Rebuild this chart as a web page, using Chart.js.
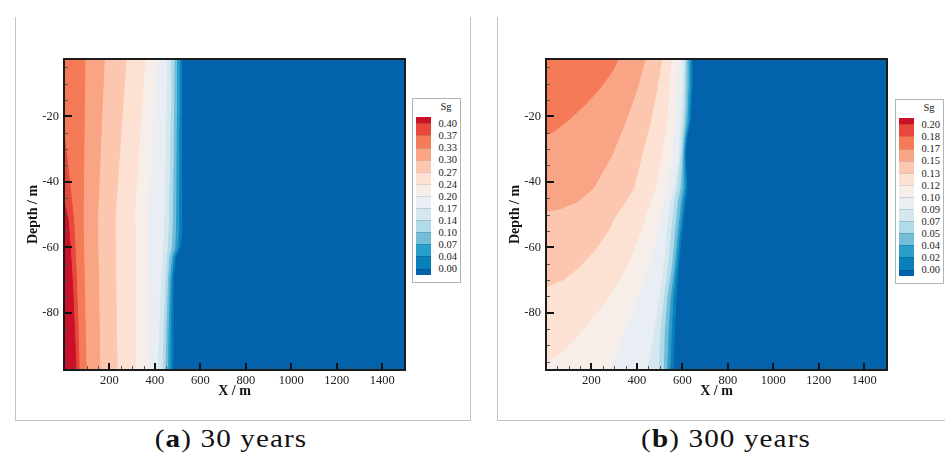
<!DOCTYPE html>
<html>
<head>
<meta charset="utf-8">
<script src="https://cdn.jsdelivr.net/npm/chart.js@4/dist/chart.umd.min.js"></script>
<style>
  html, body { margin: 0; padding: 0; background: #fff; }
  body { position: relative; width: 945px; height: 461px; overflow: hidden; font-family: "Liberation Serif", "Times New Roman", serif; }
  .frame { position: absolute; box-sizing: border-box; border: 1px solid #c2c2c2; border-top: none; }
  canvas { position: absolute; }
  .cbar { position: absolute; box-sizing: border-box; border: 1px solid #b4b4b4; background: #fff; width: 49px; height: 185px; font-family: "Liberation Serif", serif; }
  .cbar div { position: absolute; }
  .cbar .sw { left: 3px; width: 15px; }
  .cbar .lab { left: 25.5px; font-size: 10.5px; line-height: 12px; color: #222; white-space: nowrap; }
  .cbar .ttl { left: 22px; width: 22px; top: 2px; text-align: center; font-size: 10.5px; line-height: 12px; color: #222; }
  .cap { position: absolute; top: 423px; width: 240px; text-align: center; font-size: 26px; line-height: 32px; color: #111; letter-spacing: 1px; transform: scaleX(1.12); font-family: "Liberation Serif", serif; }
</style>
</head>
<body>
<div class="frame" style="left:15px; top:17px; width:456px; height:404px;"></div>
<div class="frame" style="left:497px; top:17px; width:470px; height:404px;"></div>
<canvas id="chartA" width="454" height="403" style="left:16px; top:17px;"></canvas>
<canvas id="chartB" width="447" height="403" style="left:498px; top:17px;"></canvas>
<div class="cbar" id="cbarA" style="left:412px; top:98px;"></div>
<div class="cbar" id="cbarB" style="left:895px; top:99px;"></div>
<div class="cap" style="left:111px;">(<b>a</b>) 30 years</div>
<div class="cap" style="left:606px;">(<b>b</b>) 300 years</div>

<script>
// ---------------- DATA ----------------
// Axis tick labels
const xTickValues = [200, 400, 600, 800, 1000, 1200, 1400];
const yTickValues = [-80, -60, -40, -20];

// Colour bands, low -> high (index 0 = below the lowest level)
const levelColors = ['#0262AC', '#0A80BA', '#2B9FCB', '#73BDD8', '#B1DAEA', '#D5E8EF', '#E8EEF4',
                     '#F7EEE9', '#FDE1D3', '#FCC7AE', '#F9A484', '#F57B58', '#E8483C', '#CA1129'];

// Colour-bar labels (top -> bottom)
const cbarLabelsA = ['0.40', '0.37', '0.33', '0.30', '0.27', '0.24', '0.20', '0.17', '0.14', '0.10', '0.07', '0.04', '0.00'];
const cbarLabelsB = ['0.20', '0.18', '0.17', '0.15', '0.13', '0.12', '0.10', '0.09', '0.07', '0.05', '0.04', '0.02', '0.00'];

// ---- Panel (a) 30 years: contour lines, X (m) at depth (m) ----
const aDepthBlue = [-2.5, -20, -40, -55, -60, -63, -70, -85, -97.5];
const aX000 = [517, 518, 518, 516, 512, 490, 480, 479, 478];
const aX004 = [507, 506, 505, 503, 500, 482, 472, 468, 466];
const aX007 = [495, 494, 492, 490, 487, 474, 464, 458, 455];
const aX010 = [484, 482, 479, 475, 472, 462, 455, 448, 444];
const aX014 = [469, 467, 463, 458, 455, 450, 444, 436, 431];
const aX017 = [451, 448, 443, 438, 434, 431, 426, 416, 409];
const aDepthWarm = [-2.5, -51.6, -97.5];
const aX020 = [407, 368, 374];
const aX024 = [356, 308, 312];
const aX027 = [273, 224, 233];
const aX030 = [177, 147, 158];
const aX033 = [92, 84, 97];
const aDepth037 = [-25.5, -30, -37, -45, -51.6, -65, -80, -97.5];
const aX037 = [0, 8, 20, 32, 42, 52, 60, 67];
const aDepth040 = [-46, -51.6, -60, -75, -97.5];
const aX040 = [0, 18, 28, 40, 53];

// ---- Panel (b) 300 years ----
const bDepthBlue = [-2.5, -12, -21.6, -26.7, -31.8, -41.9, -46, -55.6, -65.8, -76, -86.1, -97.5];
const bX000 = [641, 641, 634, 619, 612, 620, 612, 597, 582, 572, 564, 558];
const bX002 = [633, 633, 627, 614, 608, 612, 603, 588, 573, 558, 551, 545];
const bX004 = [624, 624, 619, 608, 603, 602, 592, 578, 564, 546, 537, 531];
const bX005 = [616, 615, 610, 602, 598, 590, 578, 565, 552, 531, 520, 516];
const bX007 = [607, 606, 601, 594, 590, 575, 562, 548, 535, 516, 500, 494];
const bX009 = [599, 597, 590, 585, 582, 562, 545, 528, 516, 495, 473, 443];
const bDepth010 = [-2.5, -21.6, -31.8, -41.9, -46, -55.6, -65.8, -76, -86.1, -97.5];
const bX010 = [580, 568, 553, 532, 515, 490, 451, 400, 341, 282];
const bDepth012 = [-2.5, -21.6, -31.8, -41.9, -46, -55.6, -65.8, -76, -86.1, -93.3, -95.3];
const bX012 = [549, 531, 509, 480, 458, 414, 355, 268, 150, 48, 0];
const bDepth013 = [-2.5, -12, -22, -32, -42, -46, -50.6, -55.6, -60.7, -65.8, -69.9, -72.1];
const bX013 = [509, 487, 458, 421, 385, 350, 304, 268, 216, 150, 77, 0];
const bDepth015 = [-2.5, -12, -22, -31.8, -41.9, -46, -48.3, -49];
const bX015 = [436, 399, 348, 290, 209, 140, 60, 0];
const bDepth017 = [-2.5, -6.4, -11.4, -16.5, -21.6, -24.7, -25.5];
const bX017 = [319, 290, 238, 172, 92, 33, 0];

// ---------------- BUILD ----------------
const X_MIN = 0, X_MAX = 1500, Y_MIN = -97.5, Y_MAX = -2.5;
const SERIF = 'Liberation Serif';
Chart.defaults.font.family = SERIF;

// region "value >= level": contour line closed back along the left edge
function region(xs, ds) {
  const pts = xs.map((x, i) => ({ x: x, y: ds[i] }));
  pts.push({ x: X_MIN, y: ds[ds.length - 1] });
  pts.push({ x: X_MIN, y: ds[0] });
  return pts;
}

const panelA = [
  [aX000, aDepthBlue], [aX004, aDepthBlue], [aX007, aDepthBlue], [aX010, aDepthBlue],
  [aX014, aDepthBlue], [aX017, aDepthBlue], [aX020, aDepthWarm], [aX024, aDepthWarm],
  [aX027, aDepthWarm], [aX030, aDepthWarm], [aX033, aDepthWarm], [aX037, aDepth037], [aX040, aDepth040]
];
const panelB = [
  [bX000, bDepthBlue], [bX002, bDepthBlue], [bX004, bDepthBlue], [bX005, bDepthBlue],
  [bX007, bDepthBlue], [bX009, bDepthBlue], [bX010, bDepth010], [bX012, bDepth012],
  [bX013, bDepth013], [bX015, bDepth015], [bX017, bDepth017]
];

function datasetsFor(panel) {
  return panel.map((lv, i) => ({
    data: region(lv[0], lv[1]),
    fill: 'shape',
    backgroundColor: levelColors[i + 1],
    borderColor: levelColors[i + 1],
    borderWidth: 1,
    pointRadius: 0,
    tension: 0,
    order: 100 - i
  }));
}

const framePlugin = {
  id: 'frameTicks',
  beforeDatasetsDraw(chart) {
    const { ctx, chartArea: a } = chart;
    ctx.save();
    ctx.fillStyle = levelColors[0];
    ctx.fillRect(a.left, a.top, a.right - a.left, a.bottom - a.top);
    ctx.restore();
  },
  afterDatasetsDraw(chart) {
    const { ctx, chartArea: a, scales } = chart;
    const x = scales.x, y = scales.y;
    ctx.save();
    for (let v = 50; v < X_MAX; v += 50) {
      const major = v % 200 === 0;
      const px = Math.round(x.getPixelForValue(v)) + (major ? 0 : 0.5);
      ctx.strokeStyle = major ? '#111' : '#555';
      ctx.lineWidth = major ? 2 : 1;
      ctx.beginPath();
      ctx.moveTo(px, a.bottom);
      ctx.lineTo(px, a.bottom - (major ? 7 : 4));
      ctx.stroke();
    }
    for (let v = -5; v > Y_MIN; v -= 5) {
      const major = v % 20 === 0;
      const py = Math.round(y.getPixelForValue(v)) + (major ? 0 : 0.5);
      ctx.strokeStyle = major ? '#111' : '#555';
      ctx.lineWidth = major ? 2 : 1;
      ctx.beginPath();
      ctx.moveTo(a.left, py);
      ctx.lineTo(a.left + (major ? 8 : 4), py);
      ctx.stroke();
    }
    ctx.strokeStyle = '#1b1b1b';
    ctx.lineWidth = 2;
    ctx.strokeRect(a.left, a.top, a.right - a.left, a.bottom - a.top);
    ctx.restore();
  }
};

function makeChart(id, panel, rightPad) {
  return new Chart(document.getElementById(id), {
    type: 'line',
    data: { datasets: datasetsFor(panel) },
    options: {
      responsive: false,
      animation: false,
      devicePixelRatio: 1,
      layout: { padding: { left: 0, top: 42, right: rightPad, bottom: 0 } },
      plugins: { legend: { display: false }, tooltip: { enabled: false } },
      scales: {
        x: {
          type: 'linear', min: X_MIN, max: X_MAX,
          afterBuildTicks: s => { s.ticks = xTickValues.map(v => ({ value: v })); },
          afterFit: s => { s.height = 50; },
          grid: { display: false, drawTicks: false },
          border: { display: false },
          ticks: { autoSkip: false, maxRotation: 0, padding: 3, color: '#222',
                   callback: v => String(v),
                   font: { family: SERIF, size: 12.5 } },
          title: { display: true, text: 'X / m', color: '#111', padding: { top: 0, bottom: 20 },
                   font: { family: SERIF, size: 14, weight: 'bold' } }
        },
        y: {
          type: 'linear', min: Y_MIN, max: Y_MAX,
          afterBuildTicks: s => { s.ticks = yTickValues.map(v => ({ value: v })); },
          afterFit: s => { s.width = 48; },
          grid: { display: false, drawTicks: false },
          border: { display: false },
          ticks: { autoSkip: false, padding: 5, color: '#222',
                   callback: v => String(v),
                   font: { family: SERIF, size: 12.5 } },
          title: { display: true, text: 'Depth / m', color: '#111', padding: { top: 9, bottom: 0 },
                   font: { family: SERIF, size: 14, weight: 'bold' } }
        }
      }
    },
    plugins: [framePlugin]
  });
}

makeChart('chartA', panelA, 65);
makeChart('chartB', panelB, 58);

// colour bars
function buildColorbar(id, labels) {
  const box = document.getElementById(id);
  const ttl = document.createElement('div');
  ttl.className = 'ttl'; ttl.textContent = 'Sg';
  box.appendChild(ttl);
  const top0 = 18.3, band = 12.1;
  const cols = levelColors.slice().reverse();
  let y = top0;
  cols.forEach((c, i) => {
    const h = (i === 0 || i === cols.length - 1) ? band / 2 : band;
    const d = document.createElement('div');
    d.className = 'sw';
    d.style.top = y + 'px';
    d.style.height = h + 'px';
    d.style.background = c;
    if (i > 0) d.style.boxShadow = 'inset 0 1px 0 rgba(0,0,0,0.12)';
    box.appendChild(d);
    y += h;
  });
  labels.forEach((t, i) => {
    const d = document.createElement('div');
    d.className = 'lab';
    d.style.top = (top0 + band / 2 + band * i + 0.8 - 6) + 'px';
    d.textContent = t;
    box.appendChild(d);
  });
}
buildColorbar('cbarA', cbarLabelsA);
buildColorbar('cbarB', cbarLabelsB);
</script>
</body>
</html>
